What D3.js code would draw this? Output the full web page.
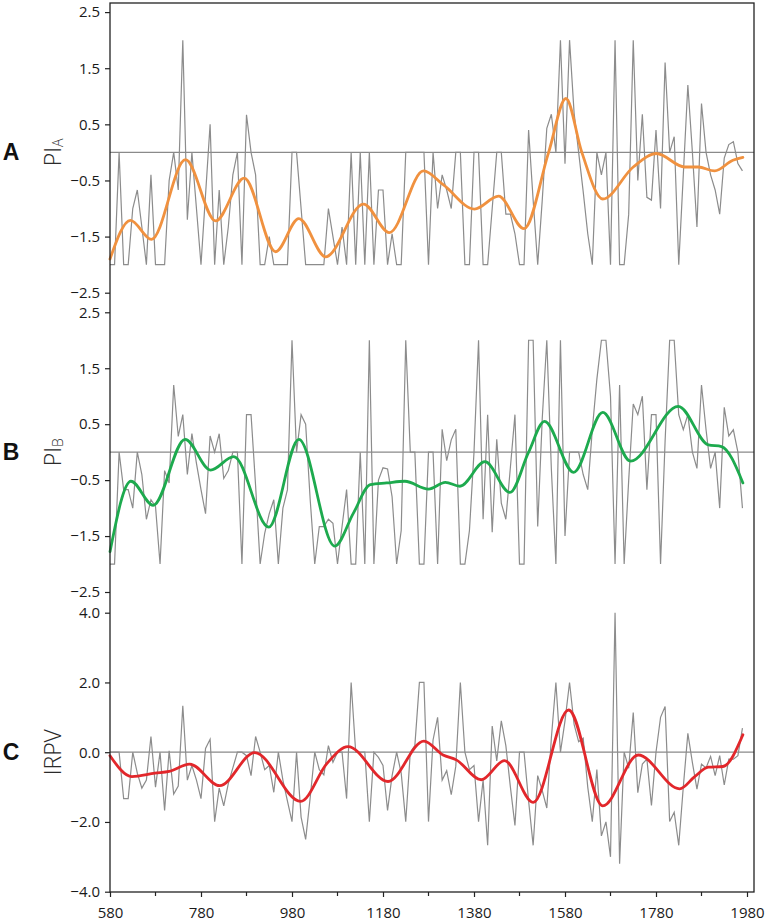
<!DOCTYPE html>
<html><head><meta charset="utf-8">
<script src="https://cdn.jsdelivr.net/npm/d3@7/dist/d3.min.js"></script>
<style>
html,body{margin:0;padding:0;background:#fff;}
svg{display:block;}
</style></head>
<body>
<svg id="chart" width="765" height="922"></svg>
<script>
// ---- data ----
const years = d3.range(580, 1980, 10); // decadal points 580..1970
const piA = [-2,-2,0,-2,-2,-1,-0.67,-1.33,-2,-0.4,-2,-2,-2,-0.5,0,-0.67,2,-1.2,0,-1,
 -2,-0.75,0.5,-2,-0.67,-2,-1.33,-0.4,0,-2,0.67,0,-0.4,-2,-2,-1.5,-2,-2,-2,-2,
 0,0,-1,-2,-2,-2,-2,-2,-1,-1.5,-2,-1.33,-2,0,-2,0,-2,0,-2,-0.67,
 -0.67,-2,-1.45,-2,-2,0,0,0,0,0,-2,0,-1,-0.4,-0.67,-1,0,0,-2,-2,
 0,0,-2,-2,-1,0,0,-1.1,-1.1,-1.45,-2,-2,0.4,-0.85,-2,-0.85,0.43,0.68,0,2,
 -0.2,2,0.7,0,-0.7,-1.45,-2,0,-0.4,0,-2,2,-2,-2,-1.1,2,-0.5,0.68,-0.8,-0.85,
 0.4,-1,1.6,0,0.28,-2,-0.4,1.2,0,-1.33,0.87,0,-0.4,-0.67,-1.1,-0.1,0.14,0.19,-0.2,-0.33];
const piB = [-2,-2,0,-0.67,-0.67,-1,0,-0.4,-1.2,-0.85,-0.97,-2,-0.33,-0.55,1.2,0.28,0.67,-0.4,0.33,-0.2,
 -0.67,-1.1,0.29,0,0.33,-0.47,-0.33,0,0,-2,0.67,0.67,-0.6,-2,-1.45,-1.1,-0.85,-2,-1,-0.67,
 2,0,0.67,0.5,-0.85,-2,-1.33,-1.33,-1.2,-1.27,-2,-1.33,-0.67,-2,-2,0,-2,2,-2,-0.5,
 -0.28,-0.3,-0.8,-2,-1.4,2,0,0,-2,-2,0,0,-2,0.41,-0.15,0.22,0.41,-2,-2,-1.4,
 0,2,-1.2,0.67,-1.43,0.23,-0.91,-1.2,-0.27,0.67,-2,-2,2,2,-1.33,0.6,2,-0.3,-2,2,
 -1.5,0,0,0,-0.4,-0.67,0.4,1.3,2,2,1.0,-2,1.2,-2,-0.5,0.86,0.67,1.0,-0.67,0.67,
 0.67,-2,0.2,2,2,0.67,0.4,0.67,0,-0.29,1.2,0.4,-0.29,0,-1,0.8,0.29,0.4,0,-1];
const irpv = [0,0,0,-1.33,-1.33,0,-0.6,-1.03,-0.8,0.45,-1.0,0,-1.67,0.04,-1.2,-0.97,1.33,-0.8,-0.38,-0.8,
 -1.33,0.11,0.37,-1.99,-1.03,-1.54,-0.9,-0.45,0,0,-0.1,-0.67,0.45,0,-0.5,-0.38,-1.15,0,-0.8,-1.4,
 -1.99,0,-1.86,-2.5,-1.3,0,-0.5,-0.65,0.19,-0.29,0,0,-1.33,2,0,0,0,-1.99,0,-0.15,
 -0.38,-1.67,-0.67,0,-0.6,-1.99,0,0.19,2,2,-1.99,0.35,1.0,-0.8,-0.53,-1.22,-0.4,2,0,-0.5,
 -0.38,-1.99,-0.8,-2.67,0.75,-0.25,0.9,0.19,-1.0,-2.1,0,0,-1.4,-2.67,-0.67,-1.1,-1.6,0.4,2,0,
 0.9,2,0.8,0.3,0.4,-1.0,-1.99,-0.5,-2.4,-2.0,-3.0,4.0,-3.2,0,-0.46,1.14,-1.16,-0.34,-0.2,-1.53,
 0,1.0,1.31,-1.99,-1.72,-2.67,-1.0,0.54,-0.3,-1.06,-0.34,-0.45,-0.12,-0.67,-0.1,-0.94,-0.2,-0.2,-0.1,0.69];

const smoothAYears = [580,625,671,746,812,875,944,995,1054,1137,1194,1269,1313,1381,1434,1490,1544,1582,1617,1663,1730,1781,1843,1873,1909,1949,1971];
const smoothAVals  = [-1.9,-1.21,-1.55,-0.13,-1.22,-0.46,-1.77,-1.18,-1.86,-0.92,-1.43,-0.33,-0.58,-1.01,-0.78,-1.36,0,0.96,0,-0.83,-0.26,-0.02,-0.26,-0.26,-0.33,-0.14,-0.09];
const smoothBYears = [580,626,675,745,801,852,929,995,1074,1115,1152,1188,1228,1280,1317,1349,1404,1459,1500,1535,1599,1663,1724,1829,1895,1924,1971];
const smoothBVals  = [-1.78,-0.52,-0.95,0.23,-0.32,-0.08,-1.34,0.23,-1.68,-1.09,-0.58,-0.55,-0.52,-0.66,-0.54,-0.61,-0.17,-0.72,0,0.55,-0.36,0.71,-0.16,0.82,0.13,0.1,-0.55];
const smoothCYears = [580,628,679,710,755,821,898,999,1057,1103,1191,1270,1312,1341,1396,1447,1510,1588,1663,1741,1832,1865,1895,1927,1971];
const smoothCVals  = [-0.1,-0.7,-0.6,-0.55,-0.34,-0.96,-0.01,-1.41,-0.32,0.16,-0.84,0.32,-0.08,-0.22,-0.79,-0.24,-1.44,1.21,-1.54,-0.08,-1.05,-0.7,-0.43,-0.41,0.5];

const ticksAB = [2.5,1.5,0.5,-0.5,-1.5,-2.5];
const ticksC = [4.0,2.0,0.0,-2.0,-4.0];
const xMajor = [580,780,980,1180,1380,1580,1780,1980];
const xMinor = [680,880,1080,1280,1480,1680,1880];

// ---- chart ----
const svg = d3.select("#chart");
const L = 110, R = 754, T = 3, B = 892;
const x = d3.scaleLinear().domain([580,1980]).range([110,747]);

function styleTicks(sel){
  sel.selectAll(".tick text")
    .attr("font-family","Open Sans, sans-serif")
    .attr("font-size",15)
    .style("font-family","'Open Sans', sans-serif")
    .style("font-size","15px")
    .attr("fill","#1a1a1a");
  sel.selectAll(".tick line").attr("stroke","#222").attr("stroke-width",1.2);
}

const panels = [
  {vals: piA, sy: smoothAYears, sv: smoothAVals, color:"#F0913F", domain:[-2.5,2.5], range:[292.7,12.1], ticks:ticksAB, letter:"A", title:["PI","A"]},
  {vals: piB, sy: smoothBYears, sv: smoothBVals, color:"#1DAA4E", domain:[-2.5,2.5], range:[592,312.3], ticks:ticksAB, letter:"B", title:["PI","B"]},
  {vals: irpv, sy: smoothCYears, sv: smoothCVals, color:"#E2272B", domain:[-4,4], range:[891.7,612.7], ticks:ticksC, letter:"C", title:["IRPV",null]}
];

panels.forEach(p => {
  const y = d3.scaleLinear().domain(p.domain).range(p.range);
  const g = svg.append("g");
  // zero line
  g.append("line").attr("x1",L).attr("x2",R).attr("y1",y(0)).attr("y2",y(0))
    .attr("stroke","#8a8a8a").attr("stroke-width",1.2);
  // raw series
  const line = d3.line().x((d,i)=>x(years[i])).y(d=>y(d));
  g.append("path").datum(p.vals).attr("d",line).attr("fill","none")
    .attr("stroke","#8c8c8c").attr("stroke-width",1.2).attr("stroke-linejoin","miter");
  // smooth
  const sm = d3.line().x((d,i)=>x(p.sy[i])).y(d=>y(d)).curve(d3.curveMonotoneX);
  g.append("path").datum(p.sv).attr("d",sm).attr("fill","none")
    .attr("stroke",p.color).attr("stroke-width",2.8).attr("stroke-linecap","round");
  // y axis
  const ax = d3.axisLeft(y).tickValues(p.ticks).tickSize(5).tickPadding(5).tickFormat(d3.format(".1f"));
  const ga = g.append("g").attr("transform",`translate(${L},0)`).call(ax);
  ga.select(".domain").remove();
  styleTicks(ga);
  // letter
  svg.append("text").attr("x",11).attr("y",y(0)+8).attr("text-anchor","middle")
    .attr("font-family","Liberation Sans, Arial, sans-serif").attr("font-weight","bold")
    .attr("font-size",23).attr("fill","#111").text(p.letter);
  // title
  const t = svg.append("text").attr("transform",`translate(61,${y(0)}) rotate(-90)`)
    .attr("text-anchor","middle").attr("font-family","Open Sans, sans-serif")
    .attr("font-weight",300).attr("font-size",23).attr("fill","#2a2a2a");
  t.append("tspan").text(p.title[0]);
  if (p.title[1]) t.append("tspan").attr("font-size",14).attr("dy",2).text(p.title[1]);
});

// frame
svg.append("rect").attr("x",L).attr("y",T).attr("width",R-L).attr("height",B-T)
  .attr("fill","none").attr("stroke","#222").attr("stroke-width",1.3);

// x axis
const xa = d3.axisBottom(x).tickValues(xMajor).tickSize(5).tickPadding(10).tickFormat(d3.format("d"));
const gx = svg.append("g").attr("transform",`translate(0,${B})`).call(xa);
gx.select(".domain").remove();
styleTicks(gx);
svg.append("g").selectAll("line").data(xMinor).join("line")
  .attr("x1",d=>x(d)).attr("x2",d=>x(d)).attr("y1",B).attr("y2",B+4)
  .attr("stroke","#222").attr("stroke-width",1.2);
</script>
</body></html>
